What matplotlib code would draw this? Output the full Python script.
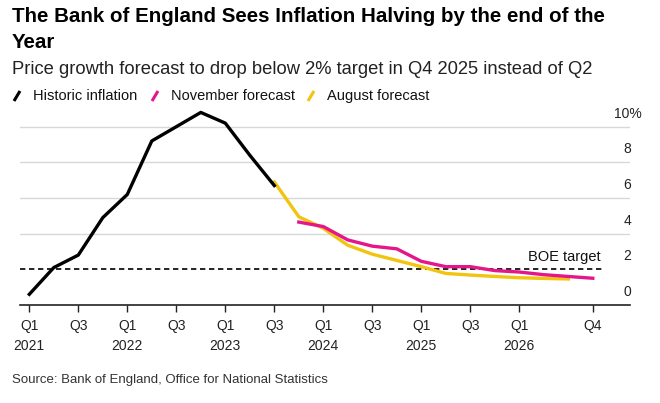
import matplotlib
matplotlib.use("Agg")
import matplotlib.pyplot as plt
from matplotlib.lines import Line2D

plt.rcParams['font.family'] = ['Liberation Sans', 'DejaVu Sans']

# ---- data ----
quarters = ["Q1\n2021", "Q3", "Q1\n2022", "Q3", "Q1\n2023", "Q3", "Q1\n2024", "Q3",
            "Q1\n2025", "Q3", "Q1\n2026", "Q4"]
tick_idx = [0, 2, 4, 6, 8, 10, 12, 14, 16, 18, 20, 23]

hist_x = list(range(0, 11))
hist_y = [0.6, 2.1, 2.8, 4.9, 6.2, 9.2, 10.0, 10.8, 10.2, 8.4, 6.7]

aug_x = list(range(10, 23))
aug_y = [6.9, 4.95, 4.3, 3.35, 2.85, 2.5, 2.15, 1.77, 1.68, 1.6, 1.53, 1.49, 1.46]

nov_x = list(range(11, 24))
nov_y = [4.65, 4.4, 3.65, 3.3, 3.15, 2.45, 2.15, 2.15, 1.93, 1.85, 1.7, 1.6, 1.5]

target = 2.0
yticks = [0, 2, 4, 6, 8, 10]
ytick_labels = ["0", "2", "4", "6", "8", "10%"]

BLACK = "#000000"
MAGENTA = "#E5168A"
YELLOW = "#F2C40F"

W, H = 660, 403
fig = plt.figure(figsize=(W / 100, H / 100), dpi=100)

def fx(px):
    return px / W

def fy(py):
    return 1 - py / H

# axes placement
ax = fig.add_axes([fx(20), fy(305), fx(630) - fx(20), fy(105.3) - fy(305)])
ax.set_xlim((20 - 29.3) / 24.5, (630 - 29.3) / 24.5)
ax.set_ylim(0, 11.2)

for v in yticks[2:]:
    ax.axhline(v, color="#d8d8d8", lw=1.0, zorder=1)

ax.plot([ax.get_xlim()[0], (601.7 - 29.3) / 24.5], [target, target], color="black",
        lw=1.2, ls=(0, (3.2, 2.2)), zorder=2)
ax.text((601 - 29.3) / 24.5, target + 0.28, "BOE target", ha="right", va="bottom",
        fontsize=10.5, color="#111111")

ax.plot(aug_x, aug_y, color=YELLOW, lw=2.4, zorder=3, solid_joinstyle="round")
ax.plot(nov_x, nov_y, color=MAGENTA, lw=2.4, zorder=4, solid_joinstyle="round")
ax.plot(hist_x, hist_y, color=BLACK, lw=2.4, zorder=5, solid_joinstyle="round")

for sp in ["top", "right", "left"]:
    ax.spines[sp].set_visible(False)
ax.spines["bottom"].set_linewidth(1.2)
ax.spines["bottom"].set_color("#222222")
ax.set_yticks([])
ax.set_xticks(tick_idx)
ax.set_xticklabels(quarters, fontsize=10, color="#222222", linespacing=1.55)
ax.tick_params(axis="x", direction="out", length=5, width=1, color="#222222", pad=5)

xr = (631 - 29.3) / 24.5
for v, lab in zip(yticks, ytick_labels):
    if lab.endswith("%"):
        ax.text((614 - 29.3) / 24.5, v + 0.73, lab, ha="left", va="center",
                fontsize=10, color="#222222", clip_on=False)
    else:
        ax.text(xr, v + 0.73, lab, ha="right", va="center", fontsize=10,
                color="#222222", clip_on=False)

# titles
fig.text(fx(12), fy(17), "The Bank of England Sees Inflation Halving by the end of the",
         fontsize=14.8, fontweight="bold", va="center", ha="left", color="black")
fig.text(fx(12), fy(42), "Year", fontsize=14.8, fontweight="bold", va="center",
         ha="left", color="black")
fig.text(fx(12), fy(70), "Price growth forecast to drop below 2% target in Q4 2025 instead of Q2",
         fontsize=13.2, va="center", ha="left", color="#222222")

# legend
legend_items = [("Historic inflation", BLACK, 14), ("November forecast", MAGENTA, 152),
                ("August forecast", YELLOW, 308)]
for lab, col, x0 in legend_items:
    fig.add_artist(Line2D([fx(x0), fx(x0 + 6)], [fy(101), fy(91)], color=col, lw=2.2,
                          transform=fig.transFigure, solid_capstyle="butt"))
    fig.text(fx(x0 + 19), fy(96), lab, fontsize=10.5, va="center", ha="left",
             color="#111111")

fig.text(fx(12), fy(380), "Source: Bank of England, Office for National Statistics",
         fontsize=9.5, va="center", ha="left", color="#333333")

fig.savefig("out.png", dpi=100)
